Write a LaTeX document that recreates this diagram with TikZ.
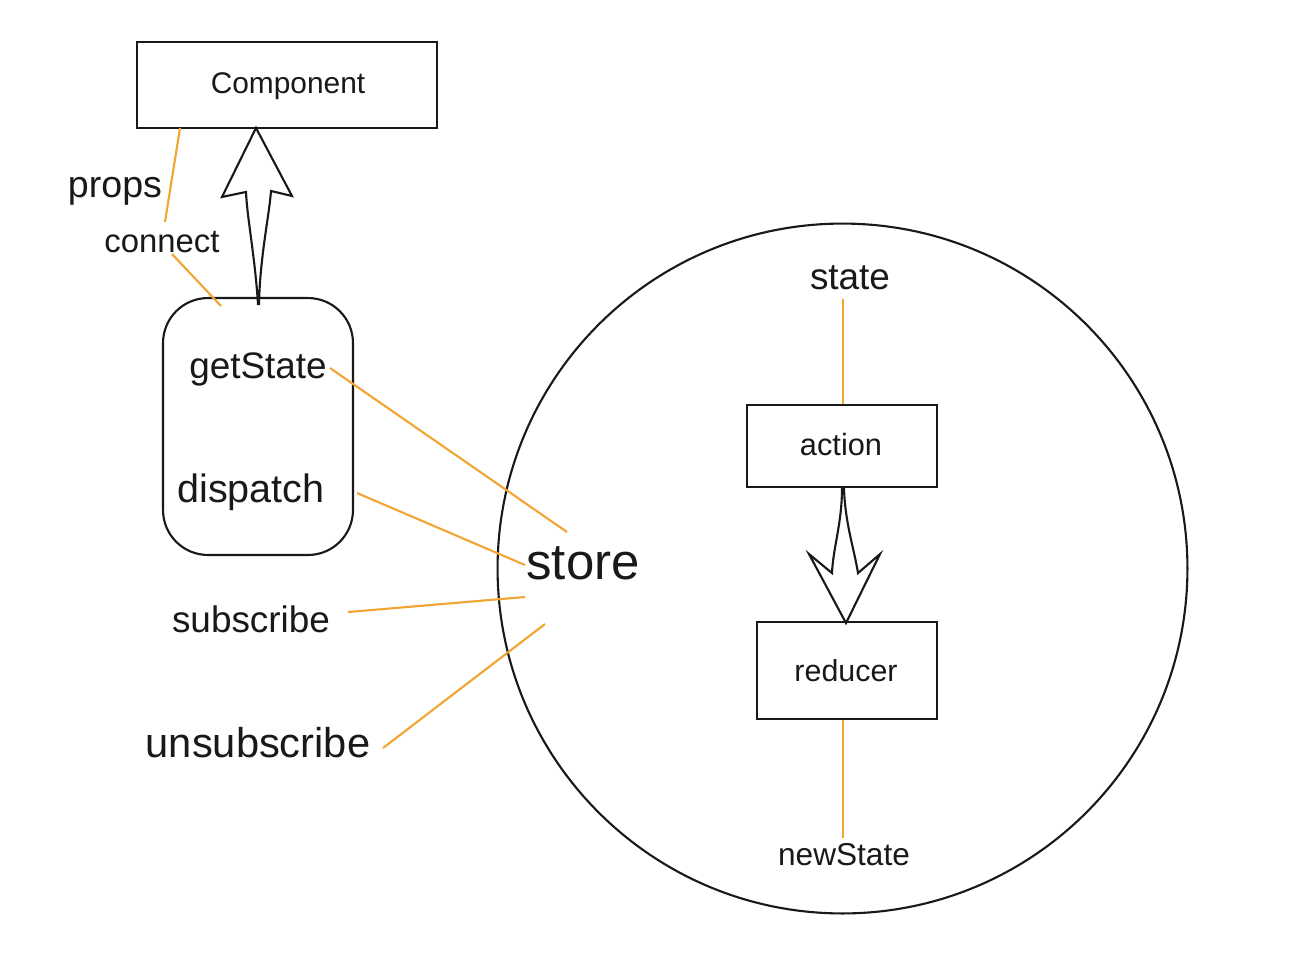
\documentclass[tikz,border=0pt]{standalone}
\usepackage{fontspec}
\setmainfont{Liberation Sans}
\definecolor{wireorange}{RGB}{242,165,50}
\definecolor{ink}{RGB}{25,25,25}
\newcommand\myfs[1]{\fontsize{#1}{#1}\selectfont}
\begin{document}
\begin{tikzpicture}[x=0.02cm,y=-0.02cm,
  box/.style={draw=ink,line width=1.2pt,inner sep=0pt},
  lbl/.style={inner sep=0pt,text=ink,anchor=base},
  wire/.style={draw=wireorange,line width=1.2pt},
  hollow/.style={draw=ink,line width=1.2pt,fill=white,line join=miter}]
\useasboundingbox (0,0) rectangle (1300,978);
\fill[white] (0,0) rectangle (1300,978);

% big store circle
\node[circle,draw=ink,line width=1.2pt,minimum size=13.8cm,inner sep=0pt] (storec) at (842.5,568.5) {};

% boxes
\node[box,minimum width=6cm,minimum height=1.72cm] (comp) at (287,85) {};
\node[lbl] (comptxt) at (288,93) {\myfs{17}Component};
\node[box,rounded corners=0.9cm,minimum width=3.8cm,minimum height=5.14cm] (api) at (258,426.5) {};
\node[box,minimum width=3.8cm,minimum height=1.64cm] (action) at (842,446) {};
\node[lbl] (actiontxt) at (841,455) {\myfs{17.5}action};
\node[box,minimum width=3.6cm,minimum height=1.94cm] (reducer) at (847,670.5) {};
\node[lbl] (reducertxt) at (846,681) {\myfs{17.3}reducer};

% labels
\node[lbl] (props) at (115,197) {\myfs{21.4}props};
\node[lbl] (connect) at (162,252) {\myfs{18.7}connect};
\node[lbl] (getState) at (258,378) {\myfs{21}getState};
\node[lbl] (dispatch) at (251,502) {\myfs{22.5}dispatch};
\node[lbl] (subscribe) at (251,632) {\myfs{21}subscribe};
\node[lbl] (unsubscribe) at (258,757) {\myfs{23.7}unsubscribe};
\node[lbl] (store) at (583,579) {\myfs{29}store};
\node[lbl] (state) at (850,289) {\myfs{21}state};
\node[lbl] (newState) at (844,865) {\myfs{18}newState};

% orange connector end points
\coordinate (p1) at (180,128);
\coordinate (p2) at (165,222);
\coordinate (c1) at (172,254);
\coordinate (c2) at (221,306);
\coordinate (g1) at (330,368);
\coordinate (g2) at (567,532);
\coordinate (d1) at (357,493);
\coordinate (d2) at (525,565);
\coordinate (s1) at (348,612);
\coordinate (s2) at (525,597);
\coordinate (u1) at (383,748);
\coordinate (u2) at (545,624);
\coordinate (st1) at (843,299);
\coordinate (ns1) at (843,838);

\draw[wire] (p1) -- (p2);
\draw[wire] (c1) -- (c2);
\draw[wire] (g1) -- (g2);
\draw[wire] (d1) -- (d2);
\draw[wire] (s1) -- (s2);
\draw[wire] (u1) -- (u2);
\draw[wire] (st1) -- (st1 |- action.north);
\draw[wire] (ns1 |- reducer.south) -- (ns1);

% hollow arrow up: api -> component
\begin{scope}[shift={(api.north)}]
\draw[hollow] (0,7) .. controls (-3,-40) and (-11,-80) .. (-12,-105)
  -- (-36,-100) -- (-2,-169) -- (34,-101) -- (13,-106)
  .. controls (11,-80) and (2,-40) .. (1,7) -- cycle;
\end{scope}

% hollow arrow down: action -> reducer
\begin{scope}[shift={(action.south)}]
\draw[hollow] (0,0) .. controls (0,35) and (-9,60) .. (-10,85)
  -- (-33,66) -- (4,135) -- (38,66) -- (16,85)
  .. controls (12,60) and (3,35) .. (2,0) -- cycle;
\end{scope}
\end{tikzpicture}
\end{document}
